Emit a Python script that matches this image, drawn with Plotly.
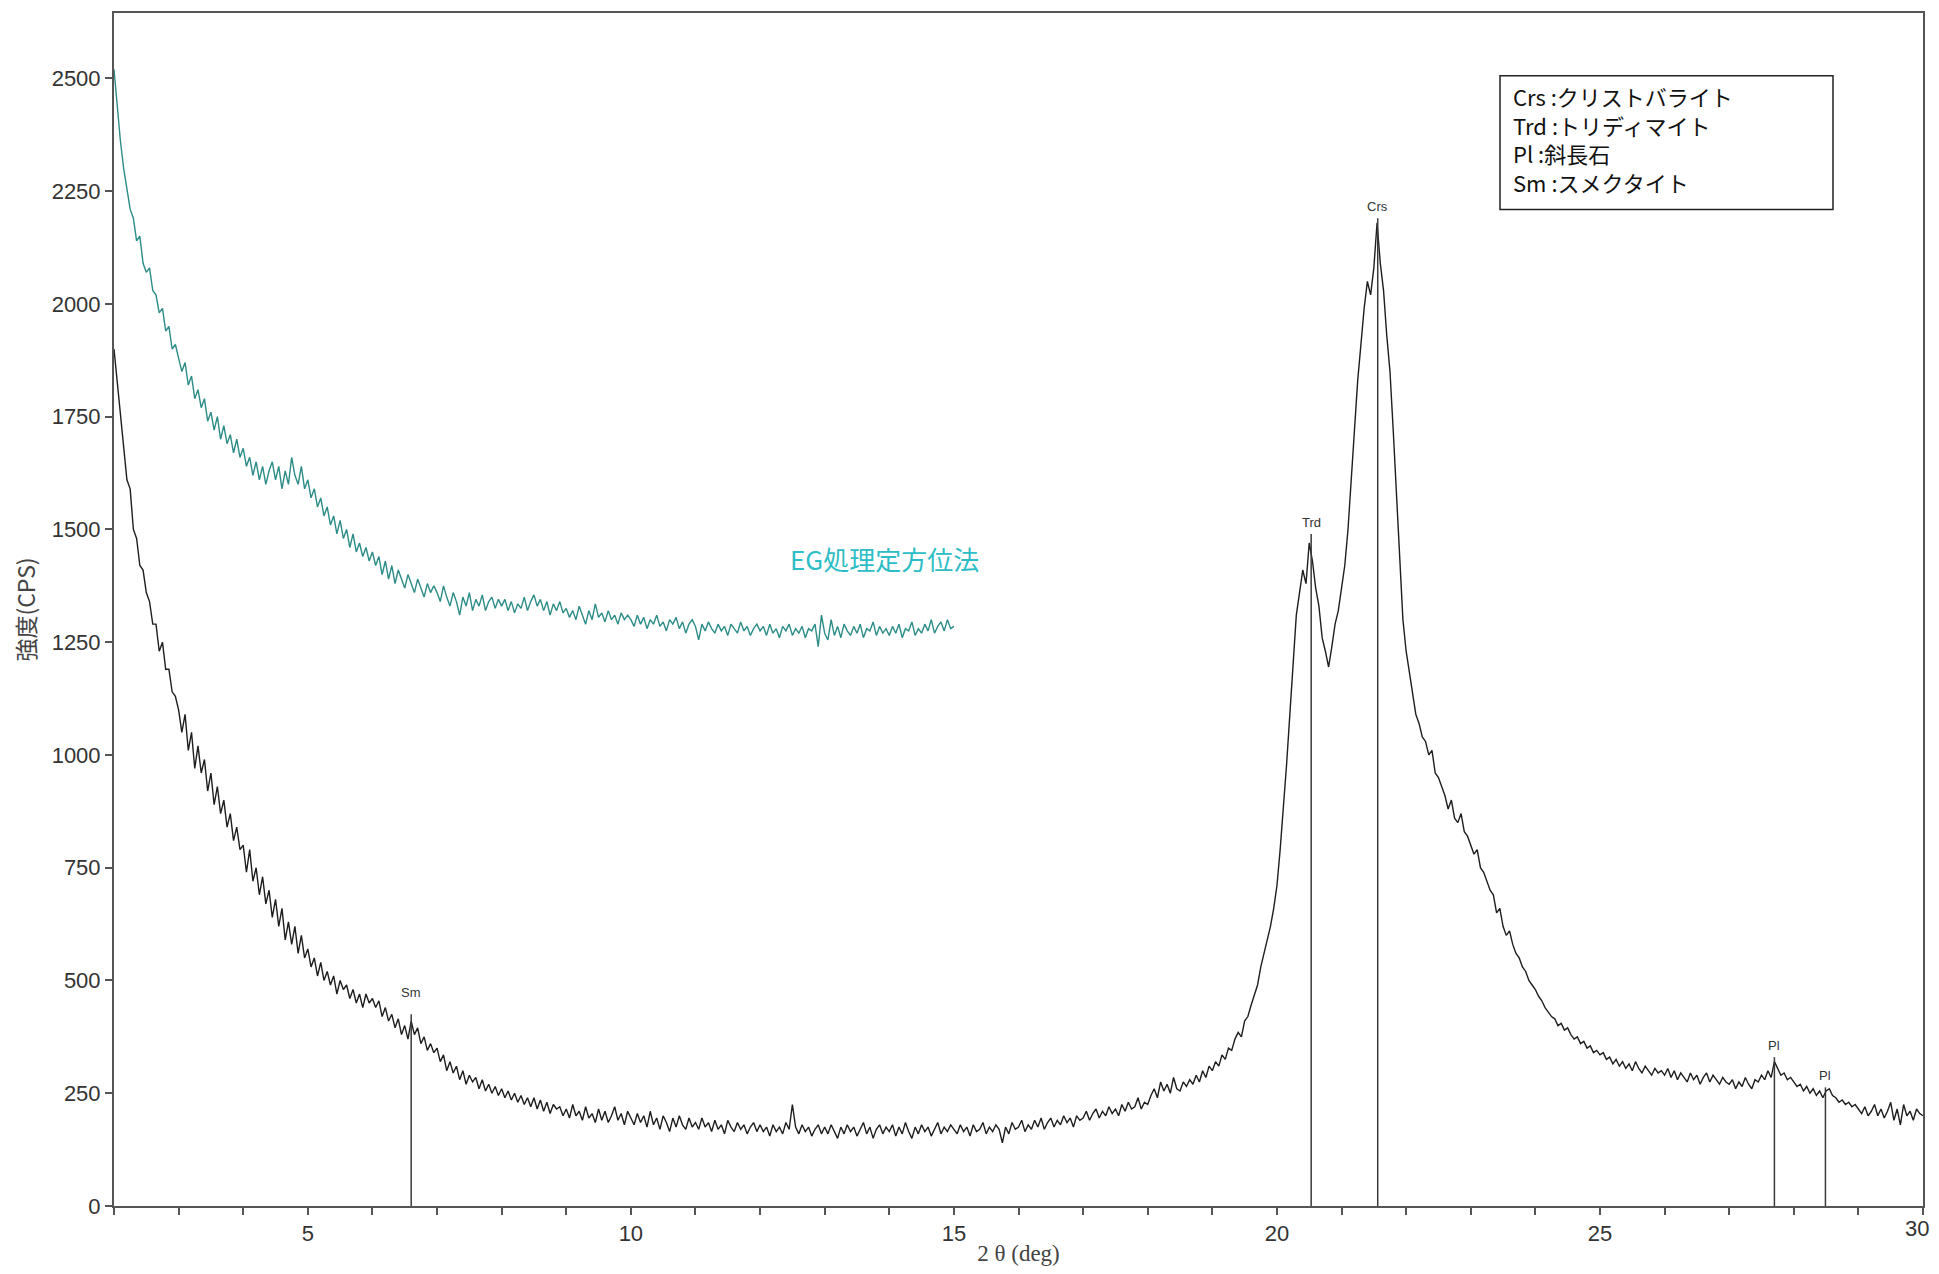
import numpy as np
import plotly.graph_objects as go

# ---------------- data ----------------
scan_start = 2.0
scan_step = 0.05

# untreated (black) scan, 2.00 - 30.00 deg, step 0.05
intensity_raw = [
    1900, 1830, 1750, 1690, 1610, 1590, 1500, 1480, 1420, 1410, 1360, 1340, 1290, 1290, 1230, 1250, 1190, 1190, 1140, 1130,
    1100, 1050, 1090, 1010, 1050, 970, 1020, 960, 990, 920, 960, 890, 930, 870, 900, 840, 870, 810, 840, 790,
    800, 740, 790, 720, 750, 690, 730, 670, 700, 640, 680, 620, 660, 590, 630, 580, 620, 560, 600, 550,
    570, 530, 550, 510, 540, 500, 520, 490, 510, 470, 500, 480, 490, 460, 480, 450, 470, 440, 470, 450,
    460, 440, 455, 420, 440, 410, 425, 395, 415, 380, 400, 370, 410, 380, 395, 360, 375, 345, 360, 340,
    350, 320, 335, 300, 320, 295, 310, 280, 300, 270, 290, 275, 285, 260, 280, 255, 270, 250, 265, 245,
    260, 240, 255, 235, 250, 230, 245, 225, 240, 220, 240, 215, 235, 210, 230, 205, 225, 215, 220, 200,
    215, 195, 225, 200, 210, 190, 220, 195, 205, 185, 215, 190, 210, 185, 200, 220, 190, 205, 180, 210,
    195, 180, 205, 185, 200, 175, 210, 180, 195, 170, 200, 185, 165, 195, 175, 200, 180, 170, 195, 175,
    185, 170, 195, 175, 185, 165, 190, 170, 180, 160, 190, 175, 165, 185, 170, 180, 160, 175, 185, 165,
    180, 165, 175, 155, 180, 165, 175, 160, 185, 170, 225, 175, 160, 180, 165, 175, 155, 170, 180, 160,
    175, 160, 180, 165, 150, 175, 160, 180, 165, 175, 155, 170, 185, 160, 175, 150, 170, 180, 160, 175,
    165, 180, 155, 175, 160, 185, 165, 150, 175, 160, 180, 165, 175, 155, 170, 185, 160, 175, 165, 180,
    170, 160, 180, 165, 175, 155, 180, 165, 170, 185, 160, 175, 165, 180, 170, 140, 175, 160, 185, 170,
    175, 190, 165, 180, 170, 190, 175, 195, 170, 185, 195, 175, 190, 180, 200, 185, 195, 175, 200, 190,
    195, 210, 190, 205, 215, 195, 210, 200, 220, 205, 215, 200, 225, 210, 230, 215, 220, 240, 215, 230,
    225, 245, 260, 240, 275, 255, 270, 250, 285, 260, 255, 275, 265, 280, 270, 290, 275, 300, 285, 310,
    300, 320, 310, 335, 325, 350, 345, 370, 385, 375, 410, 420, 445, 470, 490, 530, 560, 590, 620, 660,
    710, 790, 880, 980, 1090, 1200, 1310, 1360, 1410, 1380, 1470, 1430, 1370, 1330, 1260, 1230, 1195, 1240, 1290, 1320,
    1370, 1420, 1500, 1600, 1720, 1830, 1920, 1990, 2050, 2020, 2080, 2180, 2090, 2030, 1930, 1850, 1720, 1580, 1450, 1300,
    1230, 1180, 1140, 1090, 1070, 1040, 1030, 1000, 1010, 960, 950, 930, 910, 880, 900, 860, 850, 870, 830, 820,
    800, 780, 790, 750, 740, 720, 700, 690, 650, 660, 620, 600, 610, 580, 560, 550, 530, 520, 500, 490,
    480, 465, 455, 440, 430, 420, 415, 400, 405, 390, 395, 380, 370, 375, 360, 365, 350, 355, 340, 345,
    335, 340, 325, 330, 315, 325, 310, 320, 305, 315, 300, 320, 305, 295, 310, 300, 290, 305, 295, 300,
    290, 305, 285, 300, 280, 295, 285, 275, 295, 280, 290, 270, 285, 295, 275, 290, 280, 270, 285, 275,
    270, 280, 260, 275, 265, 285, 270, 260, 280, 275, 290, 280, 300, 285, 320, 305, 290, 295, 280, 285,
    275, 265, 270, 255, 265, 250, 260, 245, 255, 240, 255, 260, 245, 240, 230, 235, 225, 230, 220, 225,
    215, 205, 220, 200, 210, 225, 200, 215, 195, 210, 230, 190, 215, 180, 225, 200, 210, 190, 215, 205,
    200,
]

# EG-treated oriented (teal) scan, 2.00 - 15.00 deg, step 0.05
intensity_eg = [
    2520, 2440, 2360, 2300, 2250, 2210, 2190, 2140, 2150, 2090, 2070, 2080, 2030, 2020, 1980, 1990, 1940, 1950, 1900, 1910,
    1880, 1850, 1870, 1820, 1840, 1790, 1810, 1770, 1790, 1740, 1760, 1720, 1750, 1700, 1730, 1690, 1710, 1670, 1700, 1660,
    1680, 1640, 1660, 1620, 1650, 1610, 1640, 1600, 1630, 1650, 1610, 1640, 1590, 1630, 1600, 1660, 1620, 1600, 1640, 1590,
    1610, 1570, 1590, 1550, 1570, 1530, 1550, 1510, 1530, 1490, 1520, 1480, 1500, 1460, 1490, 1450, 1470, 1440, 1460, 1430,
    1450, 1420, 1440, 1400, 1430, 1390, 1420, 1380, 1410, 1390, 1370, 1400, 1380, 1360, 1390, 1370, 1350, 1380, 1360, 1375,
    1360, 1340, 1375, 1350, 1330, 1360, 1340, 1310, 1350, 1330, 1360, 1320, 1345, 1330, 1355, 1320, 1340, 1350, 1325, 1345,
    1330, 1345, 1320, 1340, 1315, 1335, 1325, 1350, 1320, 1340, 1355, 1330, 1345, 1320, 1340, 1310, 1335, 1320, 1340, 1315,
    1325, 1305, 1320, 1300, 1330, 1310, 1290, 1320, 1300, 1335, 1305, 1315, 1295, 1320, 1300, 1310, 1290, 1315, 1300, 1310,
    1300, 1285, 1310, 1290, 1305, 1280, 1300, 1290, 1310, 1285, 1295, 1275, 1300, 1290, 1305, 1280, 1295, 1270, 1290, 1300,
    1285, 1255, 1290, 1275, 1295, 1280, 1270, 1290, 1275, 1285, 1265, 1290, 1280, 1270, 1295, 1275, 1285, 1265, 1280, 1290,
    1275, 1285, 1265, 1290, 1270, 1280, 1260, 1285, 1275, 1290, 1265, 1280, 1270, 1285, 1260, 1280, 1275, 1290, 1240, 1310,
    1270, 1255, 1300, 1265, 1285, 1260, 1290, 1275, 1265, 1285, 1270, 1290, 1260, 1280, 1275, 1295, 1265, 1285, 1270, 1280,
    1265, 1285, 1270, 1290, 1260, 1280, 1275, 1295, 1265, 1280, 1270, 1290, 1275, 1300, 1270, 1285, 1295, 1275, 1300, 1280,
    1285,
]

# peak identification marks
peak_names = ["Sm", "Trd", "Crs", "Pl", "Pl"]
peak_pos = [6.60, 20.53, 21.56, 27.70, 28.49]
peak_top = [425, 1490, 2190, 330, 263]

legend_lines = ["Crs :クリストバライト", "Trd :トリディマイト", "Pl :斜長石", "Sm :スメクタイト"]
eg_label = "EG処理定方位法"
eg_label_pos = (13.93, 1436)

x_title = "2 θ (deg)"
y_title = "強度(CPS)"
y_ticks = [0, 250, 500, 750, 1000, 1250, 1500, 1750, 2000, 2250, 2500]
x_ticks = [5, 10, 15, 20, 25, 30]

# ---------------- figure ----------------
x_raw = scan_start + scan_step * np.arange(len(intensity_raw))
x_eg = scan_start + scan_step * np.arange(len(intensity_eg))

fig = go.Figure()

fig.add_trace(go.Scatter(x=x_raw, y=intensity_raw, mode="lines",
                         line=dict(color="#1e1e1e", width=1.4), showlegend=False,
                         hoverinfo="skip"))
fig.add_trace(go.Scatter(x=x_eg, y=intensity_eg, mode="lines",
                         line=dict(color="#2c8c87", width=1.4), showlegend=False,
                         hoverinfo="skip"))

# vertical identification lines
lx, ly = [], []
for p, t in zip(peak_pos, peak_top):
    lx += [p, p, None]
    ly += [0, t, None]
fig.add_trace(go.Scatter(x=lx, y=ly, mode="lines", line=dict(color="#3a3a3a", width=1.5),
                         showlegend=False, hoverinfo="skip"))

label_shift = {"Sm": 12}
for name, p, t in zip(peak_names, peak_pos, peak_top):
    fig.add_annotation(x=p, y=t, text=name, showarrow=False, xanchor="center",
                       yanchor="bottom", yshift=label_shift.get(name, 2),
                       font=dict(family="Liberation Sans, Arial", size=13, color="#333"))

fig.add_annotation(x=eg_label_pos[0], y=eg_label_pos[1], text=eg_label, showarrow=False,
                   xanchor="center", yanchor="middle",
                   font=dict(family="Noto Sans CJK JP", size=26, color="#2dbdc6"))

# page body has an 8px margin; figure placed so the plot area lands at
# page pixels x 114..1923, y 11..1207
OFF = 8
W, H = 1923, 1258
PL, PR, PT, PB = 114, 1923, 11, 1207
L = PL - OFF
R = (OFF + W) - PR
T = PT - OFF
B = (OFF + H) - PB


def px(xp):
    return (xp - PL) / (PR - PL)


def py(yp):
    return (PB - yp) / (PB - PT)


fig.add_shape(type="rect", xref="paper", yref="paper",
              x0=px(1500), x1=px(1833), y0=py(208), y1=py(74),
              line=dict(color="#222", width=1.5), fillcolor="white", layer="above")
fig.add_annotation(xref="paper", yref="paper", x=px(1511), y=py(137),
                   xanchor="left", yanchor="middle", align="left", showarrow=False,
                   text="<br>".join(legend_lines),
                   font=dict(family="Noto Sans CJK JP", size=22, color="#111"))

# last x tick label sits at the very edge of the page; draw it so it stays inside
tick_text = [str(v) for v in x_ticks[:-1]] + [""]
fig.add_annotation(xref="paper", yref="paper", x=1, y=0, text=str(x_ticks[-1]),
                   xanchor="right", yanchor="middle", xshift=R, yshift=-22,
                   showarrow=False, font=dict(size=22, color="#333"))

fig.update_layout(
    width=W, height=H,
    margin=dict(l=L, r=R, t=T, b=B, pad=0),
    paper_bgcolor="white", plot_bgcolor="white",
    font=dict(family="Liberation Sans, Arial, Noto Sans CJK JP", color="#333"),
)

fig.update_xaxes(
    range=[2, 30], showgrid=False, zeroline=False,
    showline=True, linecolor="#555", linewidth=2, mirror=True,
    tickmode="array", tickvals=x_ticks, ticktext=tick_text,
    ticks="outside", ticklen=7, tickwidth=1.5, tickcolor="#555",
    tickfont=dict(size=22, color="#333"),
    minor=dict(ticks="outside", tick0=0, dtick=1, ticklen=7, tickwidth=1.5, tickcolor="#555"),
    title=dict(text=x_title, font=dict(family="Liberation Serif, DejaVu Serif", size=23, color="#444"),
               standoff=0),
)
fig.update_yaxes(
    range=[0, 2645], showgrid=False, zeroline=False,
    showline=True, linecolor="#555", linewidth=2, mirror=True,
    tickmode="array", tickvals=y_ticks, ticktext=[str(v) for v in y_ticks],
    ticks="outside", ticklen=7, tickwidth=1.5, tickcolor="#555",
    tickfont=dict(size=22, color="#333"),
    title=dict(text=y_title, font=dict(family="Noto Sans CJK JP", size=23, color="#444"),
               standoff=14),
)

fig.write_html("out.html")
